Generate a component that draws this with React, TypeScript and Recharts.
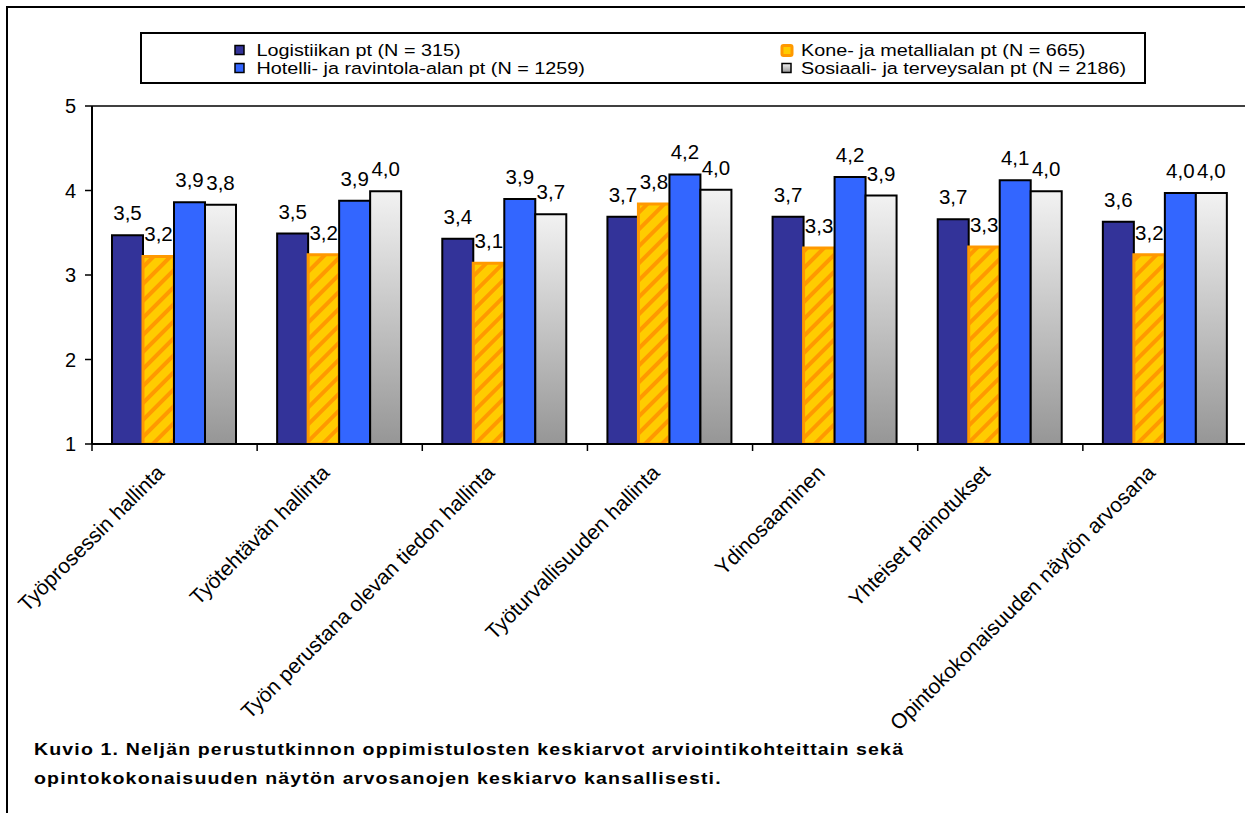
import { Bar, BarChart, LabelList, ReferenceLine, XAxis, YAxis } from "recharts";

const categories = [
  "Työprosessin hallinta",
  "Työtehtävän hallinta",
  "Työn perustana olevan tiedon hallinta",
  "Työturvallisuuden hallinta",
  "Ydinosaaminen",
  "Yhteiset painotukset",
  "Opintokokonaisuuden näytön arvosana",
];
const seriesNames = [
  "Logistiikan pt (N = 315)",
  "Kone- ja metallialan pt (N = 665)",
  "Hotelli- ja ravintola-alan pt (N = 1259)",
  "Sosiaali- ja terveysalan pt (N = 2186)",
];
const logistiikka = [3.47, 3.49, 3.43, 3.69, 3.69, 3.66, 3.63];
const kone = [3.22, 3.24, 3.14, 3.84, 3.32, 3.33, 3.24];
const hotelli = [3.86, 3.88, 3.9, 4.19, 4.16, 4.12, 3.97];
const sosiaali = [3.83, 3.99, 3.72, 4.01, 3.94, 3.99, 3.97];
const yTicks = [1, 2, 3, 4, 5];
const caption = [
  "Kuvio 1. Neljän perustutkinnon oppimistulosten keskiarvot arviointikohteittain sekä",
  "opintokokonaisuuden näytön arvosanojen keskiarvo kansallisesti.",
];

const data = categories.map((name, i) => ({
  name,
  log: logistiikka[i],
  kone: kone[i],
  hotelli: hotelli[i],
  sos: sosiaali[i],
}));

const FONT = "'Liberation Sans', Arial, sans-serif";
const CHART_W = 1262;
const PLOT_LEFT = 92;
const PLOT_RIGHT = 1248;
const BAND = (PLOT_RIGHT - PLOT_LEFT) / categories.length;

const fmt = (v: any) => Number(v).toFixed(1).replace(".", ",");

function CategoryTick(props: any) {
  const { x, y, payload } = props;
  const ax = x - 9;
  const ay = y + 23;
  return (
    <g>
      <line x1={x - BAND / 2} x2={x - BAND / 2} y1={y - 7} y2={y} stroke="#000" strokeWidth={1.5} />
      <text
        x={ax}
        y={ay}
        transform={`rotate(-45 ${ax} ${ay})`}
        textAnchor="end"
        fontSize={21}
        fontFamily={FONT}
        fill="#000"
      >
        {payload.value}
      </text>
    </g>
  );
}

function LegendIcon({ i, x, y }: { i: number; x: number; y: number }) {
  if (i === 1) {
    return <rect x={x} y={y} width={10} height={10} rx={1.5} fill="#FFCC00" stroke="#FF9900" strokeWidth={3} />;
  }
  const fills = ["#333399", "", "#3366FF", "url(#sosGrad)"];
  return <rect x={x} y={y} width={9} height={9} fill={fills[i]} stroke="#000" strokeWidth={1.5} />;
}

const labelStyle = { fill: "#000", fontSize: 20.5, fontFamily: FONT };

export default function App() {
  const cols = [
    { sq: 95, tx: 116.5 },
    { sq: 642, tx: 661 },
  ];
  const order = [0, 2, 1, 3];
  return (
    <div style={{ position: "absolute", left: 0, top: 0, width: 1245, height: 813, overflow: "hidden", background: "#fff" }}>
      <svg width={1245} height={813} style={{ position: "absolute", left: 0, top: 0 }}>
        <defs>
          <linearGradient id="sosGrad" x1="0" y1="0" x2="0" y2="1">
            <stop offset="0" stopColor="#F2F2F2" />
            <stop offset="1" stopColor="#969696" />
          </linearGradient>
          <pattern id="koneStripe" patternUnits="userSpaceOnUse" width={12} height={12} patternTransform="rotate(45)">
            <rect width={12} height={12} fill="#FFCC00" />
            <rect width={4} height={12} fill="#FF9900" />
          </pattern>
        </defs>
        <rect x={7} y={7} width={1300} height={900} fill="none" stroke="#000" strokeWidth={2} />
        <g transform="translate(140,32)">
          <rect x={1} y={1} width={1004} height={50} fill="#fff" stroke="#000" strokeWidth={2} />
          {order.map((si, k) => {
            const col = cols[k < 2 ? 0 : 1];
            const row = k % 2;
            return (
              <g key={si}>
                <LegendIcon i={si} x={col.sq} y={13.5 + row * 18} />
                <text
                  transform={`translate(${col.tx},${24.3 + row * 18}) scale(1.2,1)`}
                  fontSize={16.5}
                  fontFamily={FONT}
                  fill="#000"
                >
                  {seriesNames[si]}
                </text>
              </g>
            );
          })}
        </g>
        {caption.map((line, i) => (
          <text
            key={i}
            transform={`translate(34,${755 + i * 29}) scale(1.15,1)`}
            fontSize={17}
            fontWeight="bold"
            fontFamily={FONT}
            letterSpacing={1}
            fill="#000"
          >
            {line}
          </text>
        ))}
      </svg>
      <div style={{ position: "absolute", left: 0, top: 0 }}>
        <BarChart
          width={CHART_W}
          height={813}
          data={data}
          margin={{ top: 106, right: CHART_W - PLOT_RIGHT, bottom: 0, left: 0 }}
          barGap={0}
          barCategoryGap={20}
        >
          <XAxis
            dataKey="name"
            height={813 - 444}
            axisLine={{ stroke: "#000", strokeWidth: 2 }}
            tickLine={false}
            tickSize={7}
            tickMargin={0}
            interval={0}
            tick={<CategoryTick />}
          />
          <YAxis
            width={PLOT_LEFT}
            domain={[1, 5]}
            ticks={yTicks}
            allowDataOverflow
            axisLine={{ stroke: "#000", strokeWidth: 2 }}
            tickLine={{ stroke: "#000", strokeWidth: 1.5 }}
            tickSize={7}
            tickMargin={9}
            tick={{ fill: "#000", fontSize: 20, fontFamily: FONT }}
          />
          <ReferenceLine y={5} stroke="#000" strokeWidth={1.5} />
          <Bar dataKey="log" fill="#333399" stroke="#000" strokeWidth={2} isAnimationActive={false}>
            <LabelList dataKey="log" position="top" offset={15} formatter={fmt} {...labelStyle} />
          </Bar>
          <Bar dataKey="kone" fill="url(#koneStripe)" stroke="#FF9900" strokeWidth={3} isAnimationActive={false}>
            <LabelList dataKey="kone" position="top" offset={15} formatter={fmt} {...labelStyle} />
          </Bar>
          <Bar dataKey="hotelli" fill="#3366FF" stroke="#000" strokeWidth={2} isAnimationActive={false}>
            <LabelList dataKey="hotelli" position="top" offset={15} formatter={fmt} {...labelStyle} />
          </Bar>
          <Bar dataKey="sos" fill="url(#sosGrad)" stroke="#000" strokeWidth={2} isAnimationActive={false}>
            <LabelList dataKey="sos" position="top" offset={15} formatter={fmt} {...labelStyle} />
          </Bar>
        </BarChart>
      </div>
    </div>
  );
}
